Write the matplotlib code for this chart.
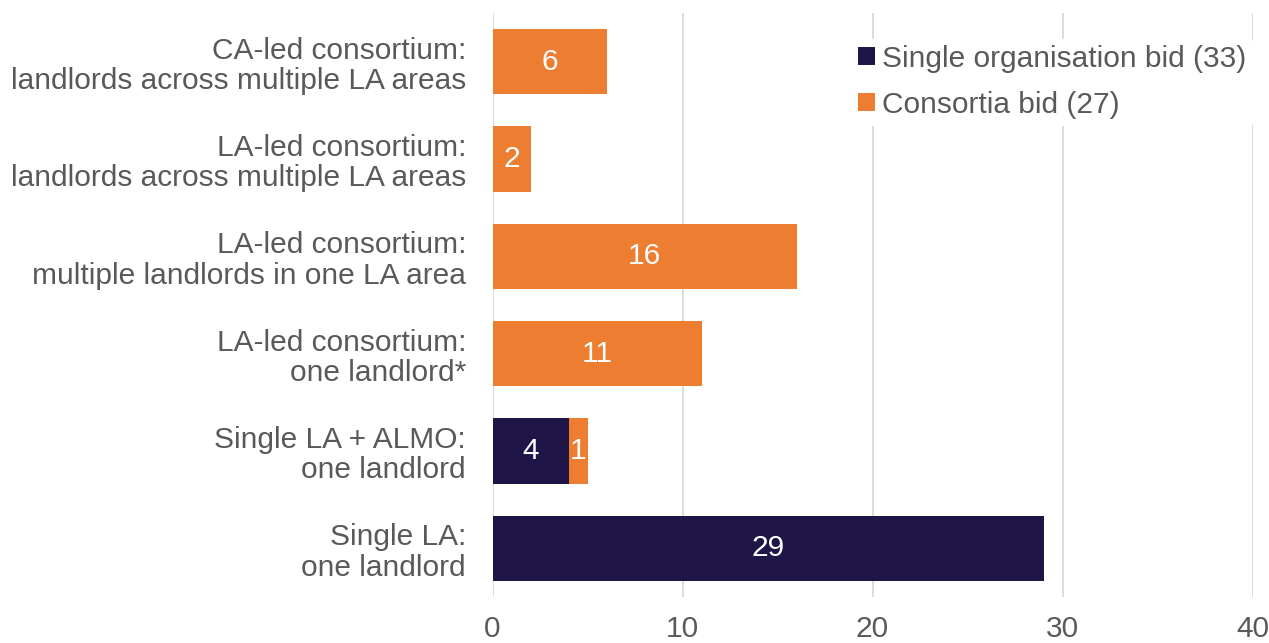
import matplotlib
matplotlib.use("Agg")
import matplotlib.pyplot as plt
from matplotlib.patches import Patch

# bid types, listed bottom to top
categories = [
    "Single LA:\none landlord",
    "Single LA + ALMO:\none landlord",
    "LA-led consortium:\none landlord*",
    "LA-led consortium:\nmultiple landlords in one LA area",
    "LA-led consortium:\nlandlords across multiple LA areas",
    "CA-led consortium:\nlandlords across multiple LA areas",
]
single_org = [29, 4, 0, 0, 0, 0]
consortia = [0, 1, 11, 16, 2, 6]
legend_labels = ["Single organisation bid (33)", "Consortia bid (27)"]

NAVY = "#1F1547"
ORANGE = "#ED7D31"
GREY = "#595959"
FS = 21.5

plt.rcParams["font.family"] = ["Liberation Sans", "DejaVu Sans"]

fig = plt.figure(figsize=(12.69, 6.43), dpi=100)
ax = fig.add_axes([492.5 / 1269, 46 / 643, 760 / 1269, 584 / 643])

y = range(len(categories))
b1 = ax.barh(y, single_org, height=0.67, color=NAVY, zorder=3)
b2 = ax.barh(y, consortia, left=single_org, height=0.67, color=ORANGE, zorder=3)

for bars, vals in ((b1, single_org), (b2, consortia)):
    for bar, v in zip(bars, vals):
        if v == 0:
            continue
        ax.text(bar.get_x() + bar.get_width() / 2, bar.get_y() + bar.get_height() / 2,
                str(v), ha="center", va="center", color="white", fontsize=FS, zorder=4)

ax.set_xlim(0, 40)
ax.set_ylim(-0.5, len(categories) - 0.5)
ax.set_xticks([0, 10, 20, 30, 40])
ax.set_yticks(list(y))
ax.set_yticklabels(categories, fontsize=FS, color=GREY, linespacing=1.1)
ax.tick_params(axis="x", labelsize=FS, labelcolor=GREY, length=0, pad=13)
ax.tick_params(axis="y", length=0, pad=19)
ax.grid(axis="x", color="#D9D9D9", linewidth=1.3, zorder=0)
for s in ax.spines.values():
    s.set_visible(False)

handles = [Patch(facecolor=NAVY), Patch(facecolor=ORANGE)]
leg = ax.legend(handles, legend_labels, loc="upper right", bbox_to_anchor=(1.0, 0.956),
                fontsize=FS, frameon=True, handlelength=0.55, handleheight=0.55,
                handletextpad=0.25, labelspacing=0.6, borderpad=0.2, borderaxespad=0.0)
leg.get_frame().set_edgecolor("white")
leg.get_frame().set_alpha(1)
for t in leg.get_texts():
    t.set_color(GREY)

fig.savefig("out.png", dpi=100)
